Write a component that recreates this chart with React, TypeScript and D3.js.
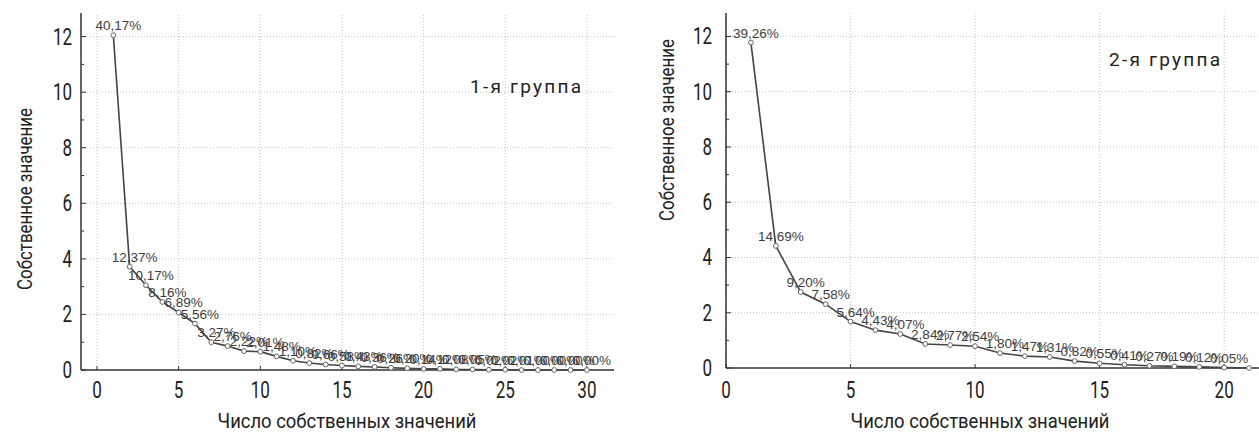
import React from "react";
import * as d3 from "d3";

// group 1: eigenvalues and % of variance
const eigen1 = [12.05, 3.72, 3.05, 2.45, 2.07, 1.67, 1.0, 0.86, 0.68, 0.66, 0.49, 0.33, 0.25, 0.2, 0.16, 0.13, 0.11, 0.08, 0.06, 0.04, 0.04, 0.02, 0.02, 0.01, 0.01, 0.0, 0.0, 0.0, 0.0, 0.0];
const pct1 = [40.17, 12.37, 10.17, 8.16, 6.89, 5.56, 3.27, 2.76, 2.22, 2.01, 1.48, 1.1, 0.82, 0.66, 0.58, 0.43, 0.36, 0.26, 0.2, 0.14, 0.12, 0.08, 0.05, 0.02, 0.02, 0.01, 0.0, 0.0, 0.0, 0.0];

// group 2
const eigen2 = [11.78, 4.42, 2.75, 2.31, 1.68, 1.37, 1.23, 0.87, 0.83, 0.79, 0.54, 0.43, 0.4, 0.25, 0.17, 0.12, 0.08, 0.06, 0.04, 0.015, 0.0];
const pct2 = [39.26, 14.69, 9.2, 7.58, 5.64, 4.43, 4.07, 2.84, 2.77, 2.54, 1.8, 1.47, 1.31, 0.82, 0.55, 0.41, 0.27, 0.19, 0.12, 0.05];

const yTicks = [0, 2, 4, 6, 8, 10, 12];
const yMinor = [1, 3, 5, 7, 9, 11];
const xTicks1 = [0, 5, 10, 15, 20, 25, 30];
const xTicks2 = [0, 5, 10, 15, 20];

const axisFont = "Roboto, sans-serif";
const labelFont = "'Liberation Sans', Arial, sans-serif";

const fmt = (v: number) => d3.format(".2f")(v).replace(".", ",") + "%";

type PanelProps = {
  eigen: number[];
  pct: number[];
  xDomain: [number, number];
  xRange: [number, number];
  yRange: [number, number];
  xTicks: number[];
  group: string;
  groupPos: [number, number];
  yTitleY: number;
  yTitleX: number;
  xTitleX: number;
  yLabelGap: number;
  gridRight: number;
};

// condensed-looking tick label
const Tick = ({ x, y, anchor, children }: { x: number; y: number; anchor: string; children: React.ReactNode }) => (
  <text transform={`translate(${x},${y}) scale(0.74,1)`} textAnchor={anchor} fontFamily={axisFont} fontSize={23} fill="#222">
    {children}
  </text>
);

const Panel = (p: PanelProps) => {
  const x = d3.scaleLinear().domain(p.xDomain).range(p.xRange);
  const y = d3.scaleLinear().domain([0, 12.85]).range(p.yRange);
  const pts = p.eigen.map((v, i) => [x(i + 1), y(v)] as [number, number]);
  const line = d3.line()(pts) || "";
  const x0 = p.xRange[0];
  const yb = p.yRange[0];
  const yt = p.yRange[1];

  return (
    <g>
      {/* grid */}
      {yTicks.slice(1).map((t) => (
        <line key={"gy" + t} x1={x0} x2={p.gridRight} y1={y(t)} y2={y(t)} stroke="#c4c4c4" strokeWidth={1} strokeDasharray="1,2" />
      ))}
      {p.xTicks.map((t) => (
        <line key={"gx" + t} x1={x(t)} x2={x(t)} y1={yb} y2={yt} stroke="#c4c4c4" strokeWidth={1} strokeDasharray="1,2" />
      ))}

      {/* axes */}
      <line x1={x0} x2={x0} y1={yb} y2={yt} stroke="#333" strokeWidth={1.5} />
      <line x1={x0} x2={p.gridRight} y1={yb} y2={yb} stroke="#333" strokeWidth={1.5} />
      {yTicks.map((t) => (
        <g key={"yt" + t}>
          <line x1={x0} x2={x0 + 5} y1={y(t)} y2={y(t)} stroke="#333" strokeWidth={1} />
          <Tick x={x0 - p.yLabelGap} y={y(t) + 8} anchor="end">
            {t}
          </Tick>
        </g>
      ))}
      {yMinor.map((t) => (
        <line key={"ym" + t} x1={x0} x2={x0 + 3} y1={y(t)} y2={y(t)} stroke="#333" strokeWidth={1} />
      ))}
      {p.xTicks.map((t) => (
        <g key={"xt" + t}>
          <line x1={x(t)} x2={x(t)} y1={yb} y2={yb - 4} stroke="#333" strokeWidth={1} />
          <Tick x={x(t)} y={398} anchor="middle">
            {t}
          </Tick>
        </g>
      ))}

      {/* titles */}
      <text x={p.xTitleX} y={428} textAnchor="middle" fontFamily={axisFont} fontSize={21} fill="#222" textLength={259} lengthAdjust="spacingAndGlyphs">
        Число собственных значений
      </text>
      <text
        transform={`translate(${p.yTitleX},${p.yTitleY}) rotate(-90)`}
        textAnchor="middle"
        fontFamily={axisFont}
        fontSize={21}
        fill="#222"
        textLength={182}
        lengthAdjust="spacingAndGlyphs"
      >
        Собственное значение
      </text>
      <text x={p.groupPos[0]} y={p.groupPos[1]} fontFamily="Roboto, sans-serif" fontSize={19} fill="#222" textLength={111} lengthAdjust="spacing">
        {p.group}
      </text>

      {/* scree line */}
      <path d={line} fill="none" stroke="#444" strokeWidth={1.6} />
      {pts.map(([cx, cy], i) => (
        <circle key={"c" + i} cx={cx} cy={cy} r={2.4} fill="#fff" stroke="#666" strokeWidth={1} />
      ))}
      {p.pct.map((v, i) => (
        <text key={"l" + i} x={pts[i][0] + 5} y={pts[i][1] - 5} textAnchor="middle" fontFamily={labelFont} fontSize={13.5} fill="#3e3e3e">
          {fmt(v)}
        </text>
      ))}
    </g>
  );
};

export default function App() {
  return (
    <svg width={1259} height={433} style={{ position: "absolute", left: 0, top: 0, background: "#fff" }}>
      <rect width={1259} height={433} fill="#fff" />
      <Panel
        eigen={eigen1}
        pct={pct1}
        xDomain={[-0.98, 31.66]}
        xRange={[81, 614]}
        yRange={[370, 13]}
        xTicks={xTicks1}
        group="1-я группа"
        groupPos={[470, 93]}
        yTitleX={32}
        yTitleY={199}
        xTitleX={347}
        yLabelGap={9}
        gridRight={614}
      />
      <Panel
        eigen={eigen2}
        pct={pct2}
        xDomain={[0, 21.4]}
        xRange={[726, 1259]}
        yRange={[368, 13]}
        xTicks={xTicks2}
        group="2-я группа"
        groupPos={[1109, 66]}
        yTitleX={674}
        yTitleY={130}
        xTitleX={980}
        yLabelGap={14}
        gridRight={1259}
      />
    </svg>
  );
}
